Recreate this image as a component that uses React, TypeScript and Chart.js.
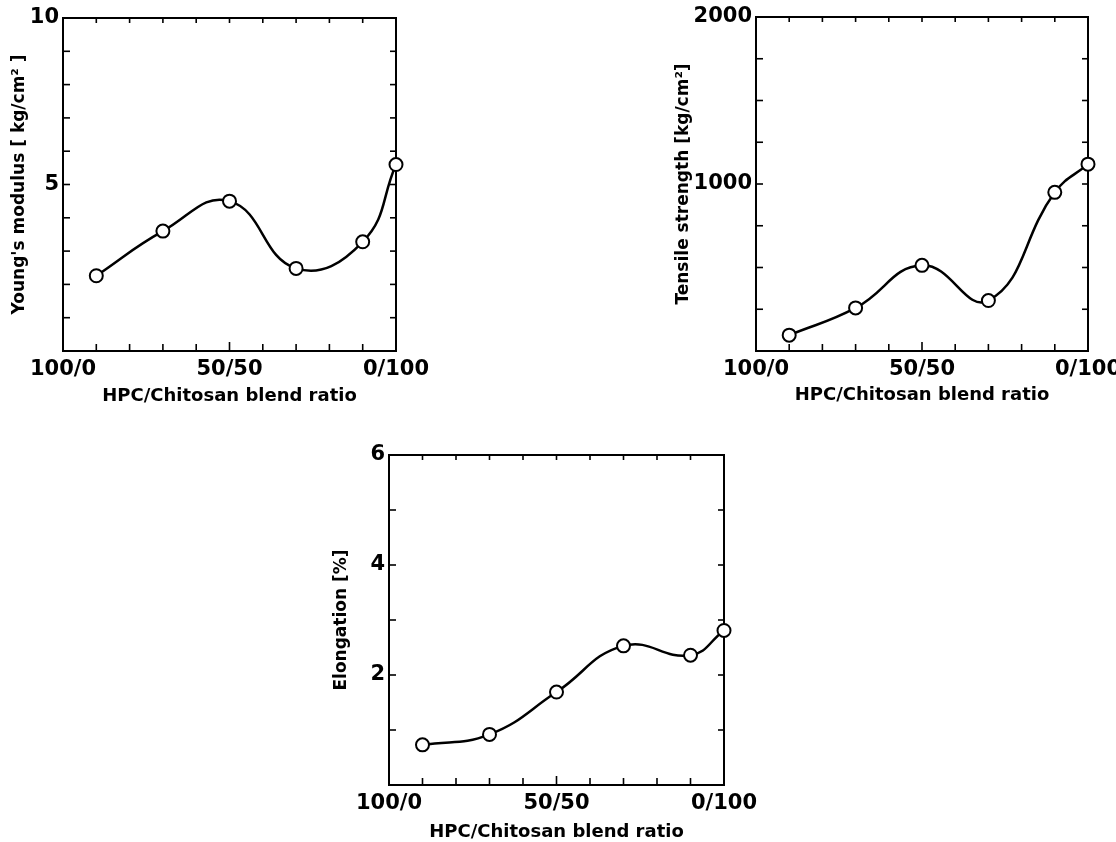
import React, { useEffect, useRef } from 'react';
import { Chart, registerables } from 'chart.js';

Chart.register(...registerables);

// ---- data ----
const chitosanContent = [10, 30, 50, 70, 90, 100];
const youngsModulus = [2.26, 3.6, 4.5, 2.48, 3.28, 5.6];
const tensileStrength = [95, 258, 513, 302, 950, 1119];
const elongation = [0.73, 0.92, 1.69, 2.53, 2.36, 2.81];

const xTickValues = [0, 50, 100];
const xTickLabels = ['100/0', '50/50', '0/100'];
const youngsTickLabels = [5, 10];
const tensileTickLabels = [1000, 2000];
const elongationTickLabels = [2, 4, 6];

const xTitle = 'HPC/Chitosan blend ratio';
const youngsTitle = "Young's modulus [ kg/cm² ]";
const tensileTitle = 'Tensile strength [kg/cm²]';
const elongationTitle = 'Elongation [%]';

const FONT = '"DejaVu Sans", sans-serif';

type PanelProps = {
  ys: number[];
  yMax: number;
  yStep: number;
  yLabels: number[];
  yTitle: string;
  box: { left: number; top: number; width: number; height: number };
  area: { left: number; top: number; right: number; bottom: number };
  yTitlePad: number;
  xTitlePad: number;
};

const framePlugin = {
  id: 'frame',
  beforeDatasetsDraw(chart: any) {
    const { ctx, chartArea: a, scales } = chart;
    const xs = scales.x;
    const ys = scales.y;
    ctx.save();
    ctx.strokeStyle = '#000';
    ctx.lineWidth = 2;
    ctx.strokeRect(a.left, a.top, a.right - a.left, a.bottom - a.top);
    ctx.lineWidth = 1.6;
    const line = (x1: number, y1: number, x2: number, y2: number) => {
      ctx.beginPath();
      ctx.moveTo(x1, y1);
      ctx.lineTo(x2, y2);
      ctx.stroke();
    };
    xs.ticks.forEach((t: any) => {
      if (t.value <= xs.min || t.value >= xs.max) return;
      const px = xs.getPixelForValue(t.value);
      const len = xTickValues.includes(t.value) ? 9 : 7;
      line(px, a.bottom, px, a.bottom - len);
      line(px, a.top, px, a.top + 5);
    });
    ys.ticks.forEach((t: any) => {
      if (t.value <= ys.min || t.value >= ys.max) return;
      const py = ys.getPixelForValue(t.value);
      line(a.left, py, a.left + 7, py);
      line(a.right, py, a.right - 6, py);
    });
    ctx.restore();
  },
};

function Panel(p: PanelProps) {
  const ref = useRef<HTMLCanvasElement>(null);
  useEffect(() => {
    if (!ref.current) return;
    const yWidth = p.area.left - p.box.left;
    const xHeight = p.box.top + p.box.height - p.area.bottom;
    const chart = new Chart(ref.current, {
      type: 'line',
      data: {
        datasets: [
          {
            data: chitosanContent.map((x, i) => ({ x, y: p.ys[i] })),
            borderColor: '#000',
            borderWidth: 2.5,
            tension: 0.45,
            pointRadius: 6.5,
            pointBackgroundColor: '#fff',
            pointBorderColor: '#000',
            pointBorderWidth: 2,
            fill: false,
            clip: false as any,
          },
        ],
      },
      options: {
        responsive: false,
        animation: false,
        devicePixelRatio: 1,
        layout: {
          padding: {
            top: p.area.top - p.box.top,
            right: p.box.left + p.box.width - p.area.right,
            left: 0,
            bottom: 0,
          },
        },
        plugins: { legend: { display: false }, tooltip: { enabled: false } },
        scales: {
          x: {
            type: 'linear',
            position: 'bottom',
            min: 0,
            max: 100,
            grid: { display: false, drawTicks: false },
            border: { display: false },
            ticks: {
              stepSize: 10,
              autoSkip: false,
              maxRotation: 0,
              padding: 6,
              color: '#000',
              font: { family: FONT, size: 21, weight: 'bold' },
              callback: (v: any) => {
                const i = xTickValues.indexOf(Number(v));
                return i >= 0 ? xTickLabels[i] : '';
              },
            },
            title: {
              display: true,
              text: xTitle,
              color: '#000',
              font: { family: FONT, size: 18, weight: 'bold' },
              padding: { top: 0, bottom: p.xTitlePad },
            },
            afterFit: (s: any) => {
              s.height = xHeight;
              s.paddingLeft = 0;
              s.paddingRight = 0;
            },
          },
          y: {
            type: 'linear',
            position: 'left',
            min: 0,
            max: p.yMax,
            grid: { display: false, drawTicks: false },
            border: { display: false },
            ticks: {
              stepSize: p.yStep,
              autoSkip: false,
              padding: 4,
              color: '#000',
              font: { family: FONT, size: 21, weight: 'bold' },
              callback: (v: any) => (p.yLabels.includes(Number(v)) ? String(v) : ''),
            },
            title: {
              display: true,
              text: p.yTitle,
              color: '#000',
              font: { family: FONT, size: 17, weight: 'bold' },
              padding: { top: p.yTitlePad, bottom: 0 },
            },
            afterFit: (s: any) => {
              s.width = yWidth;
              s.paddingTop = 0;
              s.paddingBottom = 0;
            },
          },
        },
      } as any,
      plugins: [framePlugin],
    });
    return () => chart.destroy();
  }, []);
  return (
    <canvas
      ref={ref}
      width={p.box.width}
      height={p.box.height}
      style={{
        position: 'absolute',
        left: p.box.left,
        top: p.box.top,
        width: p.box.width,
        height: p.box.height,
      }}
    />
  );
}

export default function App() {
  return (
    <div
      style={{
        position: 'absolute',
        left: 0,
        top: 0,
        width: 1116,
        height: 842,
        overflow: 'hidden',
        background: '#fff',
      }}
    >
      <Panel
        ys={youngsModulus}
        yMax={10}
        yStep={1}
        yLabels={youngsTickLabels}
        yTitle={youngsTitle}
        box={{ left: 0, top: 0, width: 440, height: 410 }}
        area={{ left: 63, top: 18, right: 396, bottom: 351 }}
        yTitlePad={9}
        xTitlePad={3}
      />
      <Panel
        ys={tensileStrength}
        yMax={2000}
        yStep={250}
        yLabels={tensileTickLabels}
        yTitle={tensileTitle}
        box={{ left: 650, top: 0, width: 466, height: 412 }}
        area={{ left: 756, top: 17, right: 1088, bottom: 351 }}
        yTitlePad={23}
        xTitlePad={6}
      />
      <Panel
        ys={elongation}
        yMax={6}
        yStep={1}
        yLabels={elongationTickLabels}
        yTitle={elongationTitle}
        box={{ left: 300, top: 440, width: 470, height: 412 }}
        area={{ left: 389, top: 455, right: 724, bottom: 785 }}
        yTitlePad={31}
        xTitlePad={9}
      />
    </div>
  );
}
